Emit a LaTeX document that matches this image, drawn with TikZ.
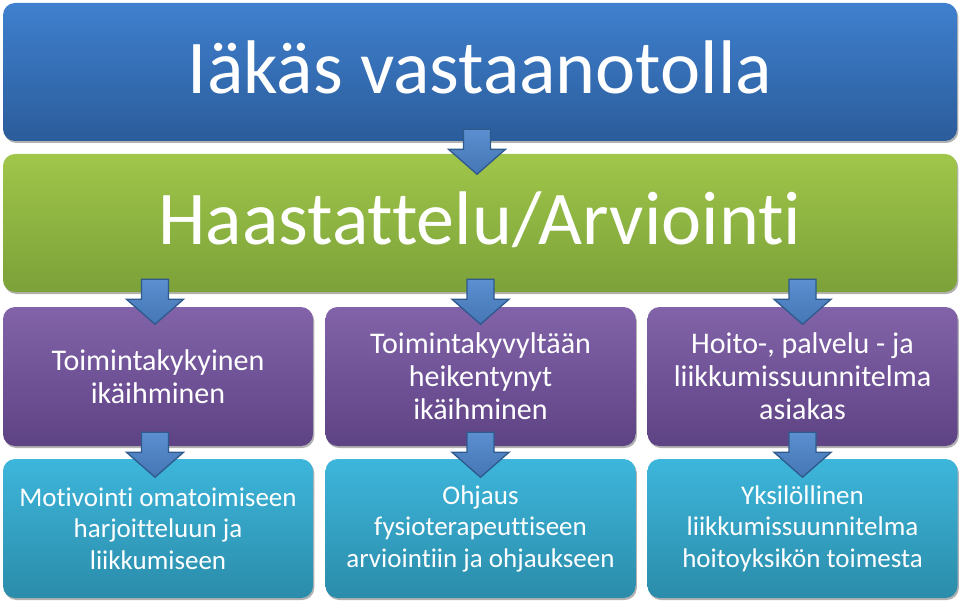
\documentclass[tikz,border=0pt]{standalone}
\usepackage{fontspec}
\setmainfont{Carlito}[Ligatures={NoCommon,NoContextual}]
\usetikzlibrary{calc,shadows}

\definecolor{blueT}{HTML}{3F80CE}
\definecolor{blueB}{HTML}{2B5C9B}
\definecolor{greenT}{HTML}{A0C64A}
\definecolor{greenB}{HTML}{7BA139}
\definecolor{purpleT}{HTML}{8263A9}
\definecolor{purpleB}{HTML}{5E4384}
\definecolor{tealT}{HTML}{3DB6DB}
\definecolor{tealB}{HTML}{2B8CAA}
\definecolor{arrowT}{HTML}{5B8FCF}
\definecolor{arrowB}{HTML}{4576B5}
\definecolor{arrowLine}{HTML}{2F5A8E}

% block arrow pointing down, #1 = top centre of the shaft
\newcommand{\blockarrow}[1]{%
  \draw[downarrow] #1 ++(-13.5,0) -- ++(27,0) -- ++(0,20) -- ++(15,0)
    -- ++(-28.5,25) -- ++(-28.5,-25) -- ++(15,0) -- cycle;}

\begin{document}
\begin{tikzpicture}[x=0.75pt, y=-0.75pt,
    box/.style={rounded corners=9pt, text=white, align=center, inner sep=0pt,
      drop shadow={shadow xshift=1pt, shadow yshift=-1.5pt, opacity=0.3, fill=black}},
    bigbox/.style={box, minimum width=715.5pt, minimum height=103.5pt,
      text height=32.25pt, text depth=0pt, font=\fontsize{57}{62}\selectfont},
    rowbox/.style={box, minimum width=232.5pt, minimum height=104.25pt},
    purplebox/.style={rowbox, top color=purpleT, bottom color=purpleB,
      font=\fontsize{22.5}{24.75}\selectfont},
    tealbox/.style={rowbox, top color=tealT, bottom color=tealB,
      font=\fontsize{20.25}{23.6}\selectfont},
    downarrow/.style={top color=arrowT, bottom color=arrowB, draw=arrowLine,
      line width=1pt, line join=miter}]
    \useasboundingbox (0,0) rectangle (960,606);

    % Header boxes
    \node[bigbox, top color=blueT, bottom color=blueB] (t) at (480,72) {Iäkäs vastaanotolla};
    \node[bigbox, top color=greenT, bottom color=greenB] (g) at (480,223) {Haastattelu/Arviointi};

    % Target groups
    \node[purplebox] (p1) at (158,376.5) {Toimintakykyinen\\ikäihminen};
    \node[purplebox] (p2) at (480.5,376.5) {Toimintakyvyltään\\heikentynyt\\ikäihminen};
    \node[purplebox] (p3) at (802.5,376.5) {Hoito-, palvelu - ja\\liikkumissuunnitelma\\asiakas};

    % Actions
    \node[tealbox] (c1) at (158,528.5) {Motivointi omatoimiseen\\harjoitteluun ja\\liikkumiseen};
    \node[tealbox] (c2) at (480.5,528.5) {Ohjaus\\fysioterapeuttiseen\\arviointiin ja ohjaukseen};
    \node[tealbox] (c3) at (802.5,528.5) {Yksilöllinen\\liikkumissuunnitelma\\hoitoyksikön toimesta};

    % Arrows
    \blockarrow{($(t.south)+(-3,-12)$)}
    \blockarrow{($(g.south -| p1.north)+(-3,-13)$)}
    \blockarrow{($(g.south -| p2.north)+(0,-13)$)}
    \blockarrow{($(g.south -| p3.north)+(0,-13)$)}
    \blockarrow{($(p1.south)+(-3,-14)$)}
    \blockarrow{($(p2.south)+(0,-14)$)}
    \blockarrow{($(p3.south)+(0,-14)$)}
  \end{tikzpicture}
\end{document}
